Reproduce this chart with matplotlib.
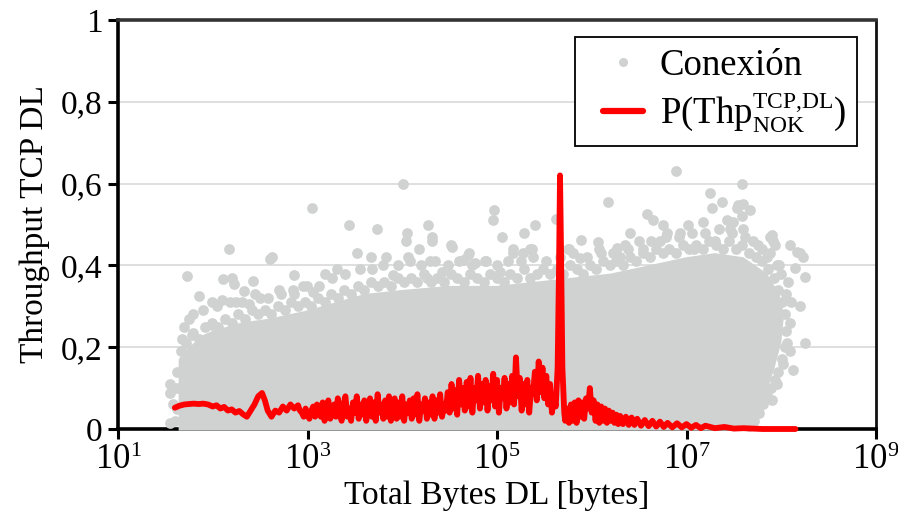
import matplotlib
matplotlib.use("Agg")
import matplotlib.pyplot as plt
import matplotlib._mathtext as _mt
import numpy as np
from matplotlib.lines import Line2D
from matplotlib.legend_handler import HandlerLine2D

plt.rcParams['font.family'] = ['Liberation Serif', 'DejaVu Serif']
plt.rcParams['mathtext.fontset'] = 'custom'
plt.rcParams['mathtext.rm'] = 'Liberation Serif'
plt.rcParams['mathtext.it'] = 'Liberation Serif:italic'
_mt.SHRINK_FACTOR = 0.64  # smaller super/subscripts, as in the reference

# ---------------- data ----------------
# dense core of the "Conexión" cloud (log10 bytes, throughput)
core_logx = [1.64, 1.64, 1.70, 1.80, 1.90, 2.00, 2.30, 2.60, 3.00, 3.30, 3.60, 4.00,
             4.50, 5.00, 5.40, 5.80, 6.20, 6.60, 7.00, 7.30, 7.60, 7.85, 7.98, 8.03,
             8.00, 7.93, 7.86, 7.78, 7.62]
core_y = [-0.004, 0.17, 0.19, 0.21, 0.23, 0.24, 0.26, 0.27, 0.29, 0.31, 0.33, 0.34,
          0.35, 0.35, 0.36, 0.37, 0.38, 0.40, 0.42, 0.43, 0.42, 0.38, 0.33, 0.28,
          0.21, 0.15, 0.10, 0.05, -0.004]

# individual connections outside the dense core (log10 bytes, throughput)
pts_logx = [1.55, 1.55, 1.55, 1.58, 1.60, 1.62, 1.62, 1.62,
            1.73, 1.79, 1.79, 1.85, 1.99, 1.99, 1.70, 1.68,
            2.11, 2.17, 2.20, 2.22, 2.33, 2.43, 2.10, 2.25, 2.38,
            2.60, 2.63, 2.86, 2.86, 3.05, 3.06, 3.18, 3.31, 2.50, 2.70, 2.95,
            3.44, 3.52, 3.67, 3.73, 3.83, 3.90, 4.01, 4.04, 4.05, 4.06, 4.18, 4.26, 4.27,
            4.29, 4.31, 4.31, 4.42, 4.51, 4.53, 4.64, 4.69, 4.70, 4.77, 4.87,
            4.96, 4.97, 5.03, 5.05, 5.17, 5.17, 5.27, 5.28, 5.35, 5.37, 5.40,
            5.62, 5.75, 5.76, 5.88, 5.89, 6.07, 6.10, 6.17, 6.27, 6.30, 6.38, 6.40, 6.54,
            6.58, 6.65, 6.72, 6.75, 6.79, 6.89, 6.93,
            7.02, 7.08, 7.17, 7.25, 7.27, 7.30, 7.37, 7.43, 7.46, 7.49, 7.53, 7.54, 7.59,
            7.59, 7.60, 7.60, 7.67, 7.70, 7.80, 7.88, 7.90, 7.91, 7.93, 8.09, 8.15, 8.17,
            8.20, 8.23, 8.25, 8.20, 8.25, 8.09, 8.12, 8.05, 8.00, 7.95, 7.85]
pts_y = [0.11, 0.088, 0.015, 0.06, 0.02, 0.05, 0.10, 0.14,
         0.375, 0.28, 0.235, 0.325, 0.31, 0.255, 0.25, 0.22,
         0.367, 0.44, 0.37, 0.355, 0.337, 0.362, 0.315, 0.31, 0.305,
         0.415, 0.42, 0.376, 0.33, 0.54, 0.335, 0.38, 0.39, 0.32, 0.34, 0.35,
         0.50, 0.43, 0.42, 0.49, 0.42, 0.376, 0.60, 0.46, 0.48, 0.42, 0.44, 0.37, 0.50,
         0.41, 0.47, 0.46, 0.385, 0.45, 0.445, 0.413, 0.425, 0.43, 0.405, 0.41,
         0.51, 0.535, 0.385, 0.47, 0.43, 0.44, 0.43, 0.48, 0.44, 0.44, 0.50,
         0.513, 0.44, 0.44, 0.418, 0.462, 0.457, 0.43, 0.555, 0.443, 0.42, 0.44, 0.48, 0.44,
         0.525, 0.51, 0.46, 0.50, 0.48, 0.63, 0.48,
         0.50, 0.44, 0.505, 0.577, 0.54, 0.46, 0.555, 0.51, 0.49, 0.507, 0.54, 0.548, 0.60,
         0.52, 0.49, 0.55, 0.535, 0.46, 0.44, 0.47, 0.475, 0.46, 0.45, 0.45, 0.393, 0.433,
         0.43, 0.42, 0.372, 0.30, 0.21, 0.19, 0.145, 0.33, 0.38, 0.40, 0.42]

# dots along the ragged edge of the dense core (two rows)
edge_logx = [1.66, 1.72, 1.78, 1.85, 1.92, 1.99, 2.06, 2.13, 2.20, 2.27, 2.34, 2.41, 2.48,
             2.55, 2.62, 2.69, 2.76, 2.83, 2.90, 2.97, 3.04, 3.11, 3.18, 3.25, 3.32, 3.39,
             3.46, 3.53, 3.60, 3.67, 3.74, 3.81, 3.88, 3.95, 4.02, 4.09, 4.16, 4.23, 4.30,
             4.37, 4.44, 4.51, 4.58, 4.65, 4.72, 4.79, 4.86, 4.93, 5.00, 5.07, 5.14, 5.21,
             5.28, 5.35, 5.42, 5.49, 5.56, 5.63, 5.70, 5.77, 5.84, 5.91, 5.98, 6.05, 6.12,
             6.19, 6.26, 6.33, 6.40, 6.47, 6.54, 6.61, 6.68, 6.75, 6.82, 6.89, 6.96, 7.03,
             7.10, 7.17, 7.24, 7.31, 7.38, 7.45, 7.52, 7.59, 7.66, 7.73, 7.80, 7.86, 7.92,
             7.97, 8.01, 8.04, 8.05, 8.04, 8.01, 7.97, 7.93, 7.89, 7.85, 7.81, 7.76, 7.71, 7.66,
             1.75, 1.90, 2.05, 2.18, 2.31, 2.45, 2.58, 2.72, 2.85, 2.99, 3.12, 3.26, 3.40,
             3.55, 3.68, 3.80, 3.95, 4.08, 4.20, 4.35, 4.48, 4.60, 4.74, 4.88, 5.00, 5.12,
             5.25, 5.38, 5.52, 5.66, 5.80, 5.95, 6.08, 6.22, 6.35, 6.50, 6.63, 6.78, 6.92,
             7.06, 7.20, 7.34, 7.48, 7.62, 7.75, 7.88, 7.98, 8.07, 8.10, 8.09, 8.06, 8.02,
             7.96, 7.90]
edge_y = [0.19, 0.21, 0.23, 0.22, 0.25, 0.26, 0.25, 0.27, 0.26, 0.28, 0.27, 0.29, 0.28,
          0.29, 0.28, 0.30, 0.29, 0.31, 0.30, 0.31, 0.30, 0.32, 0.31, 0.33, 0.32, 0.34,
          0.33, 0.35, 0.34, 0.36, 0.35, 0.36, 0.35, 0.37, 0.36, 0.37, 0.36, 0.38, 0.36,
          0.37, 0.36, 0.38, 0.37, 0.36, 0.38, 0.37, 0.36, 0.38, 0.37, 0.36, 0.38, 0.37,
          0.39, 0.37, 0.38, 0.39, 0.38, 0.39, 0.38, 0.40, 0.39, 0.38, 0.40, 0.39, 0.41,
          0.40, 0.41, 0.40, 0.42, 0.41, 0.43, 0.42, 0.44, 0.43, 0.44, 0.43, 0.45, 0.44,
          0.45, 0.44, 0.46, 0.45, 0.44, 0.46, 0.44, 0.45, 0.43, 0.42, 0.41, 0.39, 0.37,
          0.34, 0.31, 0.28, 0.24, 0.20, 0.17, 0.14, 0.12, 0.10, 0.08, 0.06, 0.04, 0.02, 0.008,
          0.27, 0.29, 0.30, 0.31, 0.31, 0.33, 0.32, 0.33, 0.34, 0.35, 0.35, 0.37, 0.38,
          0.39, 0.39, 0.40, 0.40, 0.41, 0.40, 0.41, 0.40, 0.41, 0.40, 0.41, 0.40, 0.41,
          0.41, 0.42, 0.41, 0.42, 0.43, 0.42, 0.44, 0.43, 0.45, 0.46, 0.46, 0.47, 0.47,
          0.48, 0.48, 0.49, 0.48, 0.47, 0.45, 0.43, 0.40, 0.36, 0.31, 0.26, 0.21, 0.16,
          0.11, 0.07]

# P(Thp_NOK) curve (log10 bytes, probability)
p_logx = [1.60, 1.65, 1.70, 1.75, 1.80, 1.85, 1.90, 1.95, 2.00, 2.04, 2.08, 2.12, 2.16, 2.20,
          2.24, 2.28, 2.32, 2.36, 2.40, 2.44, 2.48, 2.52, 2.55, 2.58, 2.62, 2.66, 2.70, 2.74,
          2.78, 2.82, 2.86,
          2.90, 2.92, 2.94, 2.96, 2.98, 3.00, 3.02, 3.04, 3.06, 3.08,
          3.10, 3.12, 3.14, 3.16, 3.18, 3.20, 3.22, 3.24, 3.26, 3.28,
          3.30, 3.32, 3.34, 3.36, 3.38, 3.40, 3.42, 3.44, 3.46, 3.48,
          3.50, 3.52, 3.54, 3.56, 3.58, 3.60, 3.62, 3.64, 3.66, 3.68,
          3.70, 3.72, 3.74, 3.76, 3.78, 3.80, 3.82, 3.84, 3.86, 3.88,
          3.90, 3.92, 3.94, 3.96, 3.98, 4.00, 4.02, 4.04, 4.06, 4.08,
          4.10, 4.12, 4.14, 4.16, 4.18, 4.20, 4.22, 4.24, 4.26, 4.28,
          4.30, 4.32, 4.34, 4.36, 4.38, 4.40, 4.42, 4.44, 4.46, 4.48,
          4.50, 4.52, 4.54, 4.56, 4.58, 4.60, 4.62, 4.64, 4.66, 4.68,
          4.70, 4.72, 4.74, 4.76, 4.78, 4.80, 4.82, 4.84, 4.86, 4.88,
          4.90, 4.92, 4.94, 4.96, 4.98, 5.00, 5.02, 5.04, 5.06, 5.08,
          5.10, 5.12, 5.14, 5.16, 5.18, 5.20, 5.22, 5.24, 5.26, 5.28,
          5.30, 5.32, 5.34, 5.36, 5.38, 5.40, 5.42, 5.44, 5.46, 5.48,
          5.50, 5.52, 5.54, 5.56, 5.58, 5.60, 5.62, 5.64,
          5.655, 5.665, 5.675, 5.69, 5.71,
          5.72, 5.74, 5.76, 5.78, 5.80, 5.82, 5.84, 5.86, 5.88, 5.90, 5.92, 5.94, 5.96,
          5.98, 6.00, 6.02, 6.04, 6.06, 6.08, 6.10, 6.12, 6.14, 6.16, 6.18, 6.20, 6.22,
          6.24, 6.26, 6.28, 6.30, 6.33, 6.36, 6.39, 6.42, 6.45, 6.48, 6.52, 6.56, 6.60,
          6.64, 6.68, 6.72, 6.76, 6.80, 6.85, 6.90, 6.95, 7.00, 7.05, 7.10, 7.15, 7.20,
          7.30, 7.40, 7.50, 7.60, 7.80, 8.15]
p_y = [0.052, 0.057, 0.060, 0.061, 0.062, 0.061, 0.062, 0.060, 0.055, 0.058, 0.050, 0.054,
       0.045, 0.048, 0.040, 0.044, 0.036, 0.030, 0.045, 0.060, 0.080, 0.088, 0.070, 0.045,
       0.030, 0.045, 0.040, 0.055, 0.045, 0.060, 0.050,
       0.058, 0.045, 0.040, 0.030, 0.050, 0.035, 0.025, 0.045, 0.055, 0.030,
       0.060, 0.040, 0.030, 0.065, 0.020, 0.050, 0.070, 0.025, 0.040, 0.060,
       0.030, 0.075, 0.040, 0.020, 0.060, 0.080, 0.030, 0.050, 0.020, 0.065,
       0.040, 0.080, 0.025, 0.060, 0.035, 0.070, 0.020, 0.055, 0.075, 0.030,
       0.065, 0.020, 0.085, 0.040, 0.060, 0.025, 0.070, 0.030, 0.080, 0.020,
       0.055, 0.075, 0.025, 0.065, 0.030, 0.080, 0.020, 0.060, 0.040, 0.070,
       0.025, 0.075, 0.035, 0.085, 0.020, 0.060, 0.045, 0.075, 0.025, 0.065,
       0.035, 0.080, 0.025, 0.070, 0.040, 0.085, 0.030, 0.060, 0.045, 0.090,
       0.040, 0.110, 0.050, 0.095, 0.035, 0.120, 0.060, 0.100, 0.045, 0.115,
       0.055, 0.125, 0.040, 0.100, 0.070, 0.130, 0.050, 0.110, 0.065, 0.120,
       0.045, 0.105, 0.070, 0.135, 0.055, 0.120, 0.040, 0.100, 0.075, 0.125,
       0.050, 0.110, 0.065, 0.130, 0.060, 0.175, 0.080, 0.125, 0.045, 0.110,
       0.060, 0.120, 0.040, 0.100, 0.085, 0.140, 0.070, 0.165, 0.090, 0.150,
       0.075, 0.130, 0.060, 0.110, 0.040, 0.080, 0.055, 0.150,
       0.400, 0.620, 0.450, 0.150, 0.040,
       0.020, 0.050, 0.015, 0.060, 0.020, 0.065, 0.015, 0.070, 0.030, 0.065, 0.025, 0.075,
       0.050, 0.100, 0.040, 0.070, 0.020, 0.060, 0.015, 0.055, 0.020, 0.050, 0.015, 0.045,
       0.020, 0.040, 0.015, 0.035, 0.012, 0.032, 0.012, 0.030, 0.010, 0.028, 0.010, 0.025,
       0.008, 0.022, 0.007, 0.020, 0.006, 0.018, 0.005, 0.015, 0.004, 0.014, 0.004, 0.012,
       0.003, 0.010, 0.002, 0.008, 0.002, 0.005, 0.001, 0.002, 0.0, 0.0]

x_ticks = [1e1, 1e3, 1e5, 1e7, 1e9]
x_tick_labels = [r'$\mathregular{10^{1}}$', r'$\mathregular{10^{3}}$', r'$\mathregular{10^{5}}$',
                 r'$\mathregular{10^{7}}$', r'$\mathregular{10^{9}}$']
y_ticks = [0, 0.2, 0.4, 0.6, 0.8, 1.0]
y_tick_labels = ['0', '0,2', '0,4', '0,6', '0,8', '1']

# ---------------- plot ----------------
GRAY = '#D0D1D1'
DOT = 60
fig = plt.figure(figsize=(8.98, 5.18), dpi=100)
ax = fig.add_axes([118 / 898, 89 / 518, 758 / 898, 409 / 518])

ax.set_xscale('log')
ax.set_xlim(1e1, 1e9)
ax.set_ylim(0, 1)

ax.yaxis.grid(True, color='#D9D9D9', lw=1.2, zorder=0)
ax.set_axisbelow(True)

ax.fill(10 ** np.array(core_logx), core_y, color=GRAY, lw=0, zorder=3, clip_on=False)
ax.scatter(10 ** np.array(edge_logx), edge_y, s=DOT, color=GRAY, lw=0, zorder=3, clip_on=False)
ax.scatter(10 ** np.array(pts_logx), pts_y, s=DOT, color=GRAY, lw=0, zorder=3, clip_on=False)
ax.plot(10 ** np.array(p_logx), p_y, color='#FF0000', lw=4.2, zorder=4, clip_on=False,
        solid_joinstyle='round', solid_capstyle='round')

ax.set_xticks(x_ticks)
ax.set_xticklabels(x_tick_labels)
ax.xaxis.set_minor_locator(matplotlib.ticker.NullLocator())
ax.set_yticks(y_ticks)
ax.set_yticklabels(y_tick_labels)
ax.tick_params(axis='both', direction='out', length=7, width=2.2, labelsize=24, pad=4, color='black')
ax.tick_params(axis='x', labelsize=25)

for side in ['left', 'bottom']:
    ax.spines[side].set_linewidth(2.6)
    ax.spines[side].set_color('black')
ax.spines['top'].set_linewidth(2.6)
ax.spines['top'].set_color('#333333')
ax.spines['right'].set_linewidth(2.0)
ax.spines['right'].set_color('#111111')

ax.set_xlabel('Total Bytes DL [bytes]', fontsize=24, labelpad=2)
ax.set_ylabel('Throughput TCP DL', fontsize=24, labelpad=8)

handles = [Line2D([], [], marker='o', ls='none', color=GRAY, markersize=5.5),
           Line2D([], [], color='#FF0000', lw=4.5, solid_capstyle='round')]
labels = ['Conexión', r'$\mathrm{P(Thp}^{\mathrm{TCP{,}DL}}_{\mathrm{NOK}}\mathrm{)}$']
leg = ax.legend(handles, labels, loc='upper right', fontsize=26.5, frameon=True, fancybox=False,
                framealpha=1, edgecolor='black', borderaxespad=0, handlelength=1.55,
                handletextpad=0.45, labelspacing=0.2, borderpad=0.3,
                bbox_to_anchor=(0.975, 0.958),
                handler_map={Line2D: HandlerLine2D(xpad=0.46)})
leg.get_frame().set_linewidth(1.3)
leg.set_zorder(10)

fig.savefig('out.png', dpi=100)
